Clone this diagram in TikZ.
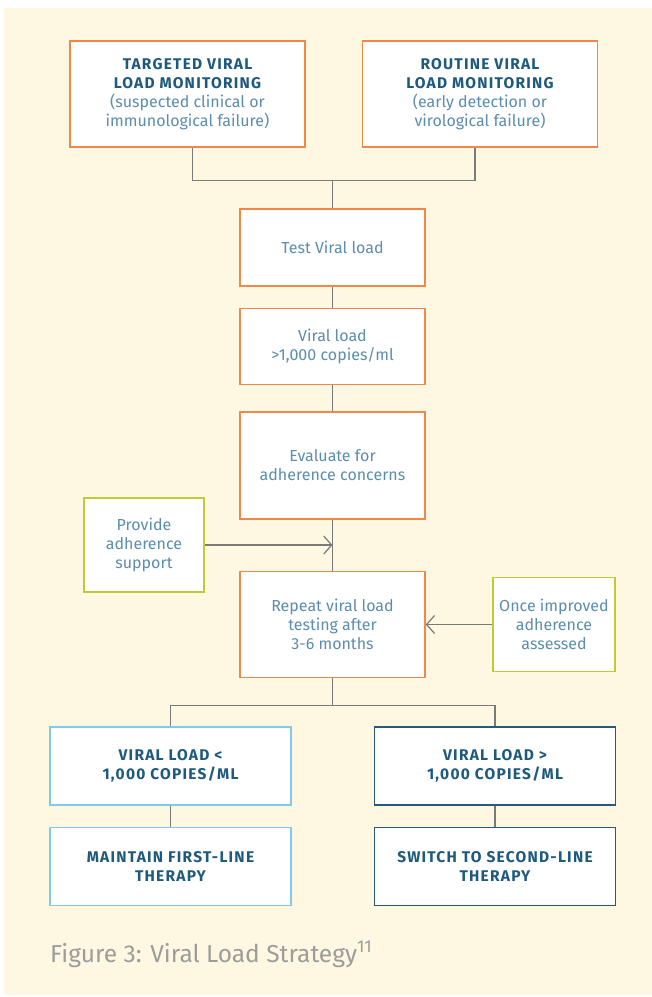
\documentclass[tikz,border=0pt]{standalone}
\usepackage{fontspec}
\setmainfont{Fira Sans}
\newfontfamily\headfont{Fira Sans}[LetterSpace=8]
\usetikzlibrary{arrows.meta,positioning}
\definecolor{cream}{HTML}{FEF8E2}
\definecolor{vlorange}{HTML}{F0884A}
\definecolor{vlgreen}{HTML}{BFCB34}
\definecolor{vllight}{HTML}{7FCBEA}
\definecolor{vldark}{HTML}{27597C}
\definecolor{vltext}{HTML}{5A8EAD}
\definecolor{vlhead}{HTML}{1E5A7E}
\definecolor{vlline}{HTML}{7A7A7A}
\definecolor{vlcap}{HTML}{9C9C9C}
\newcommand{\hd}[1]{{\headfont\bfseries\fontsize{15.5}{19}\selectfont\color{vlhead}#1}}

\begin{document}
\begin{tikzpicture}[x=1pt, y=-1pt,
  box/.style={draw, fill=white, align=center, line width=1.5pt, inner sep=2pt,
    text=vltext, font=\fontsize{16}{19}\selectfont},
  obox/.style={box, draw=vlorange, minimum width=185pt},
  gbox/.style={box, draw=vlgreen, minimum height=94pt},
  link/.style={draw=vlline, line width=1.2pt},
  pointer/.style={link, -{Straight Barb[length=8pt, width=18pt, line width=1.2pt]}}]
  \useasboundingbox (0,0) rectangle (652,997);
  \fill[cream] (4,8) rectangle (652,995);
  % monitoring
  \node[obox, minimum width=235pt, minimum height=106pt] (tgt) at (187.5,94)
    {\hd{TARGETED VIRAL}\\\hd{LOAD MONITORING}\\(suspected clinical or\\immunological failure)};
  \node[obox, minimum width=235pt, minimum height=106pt, right=56pt of tgt] (rtn)
    {\hd{ROUTINE VIRAL}\\\hd{LOAD MONITORING}\\(early detection or\\virological failure)};
  % main column
  \node[obox, minimum height=77pt] (test) at (332.5,247.5) {Test Viral load};
  \node[obox, minimum height=76pt, below=21pt of test] (high) {Viral load\\>1,000 copies/ml};
  \node[obox, minimum height=107pt, below=26pt of high] (eval) {Evaluate for\\adherence concerns};
  \node[obox, minimum height=106pt, below=51pt of eval] (rep) {Repeat viral load\\testing after\\3-6 months};
  % adherence
  \node[gbox, minimum width=120pt] (sup) at (144,545) {Provide\\adherence\\support};
  \node[gbox, minimum width=122pt, right=66.5pt of rep] (once) {Once improved\\adherence\\assessed};
  % outcomes
  \node[box, draw=vllight, minimum width=241pt, minimum height=78pt] (low) at (170.5,766)
    {\hd{VIRAL LOAD <}\\\hd{1,000 COPIES/ML}};
  \node[box, draw=vldark, minimum width=241pt, minimum height=78pt, right=82pt of low] (up)
    {\hd{VIRAL LOAD >}\\\hd{1,000 COPIES/ML}};
  \node[box, draw=vllight, minimum width=241pt, minimum height=78pt, below=21pt of low] (keep)
    {\hd{MAINTAIN FIRST-LINE}\\\hd{THERAPY}};
  \node[box, draw=vldark, minimum width=241pt, minimum height=78pt, below=21pt of up] (swap)
    {\hd{SWITCH TO SECOND-LINE}\\\hd{THERAPY}};
  \node[anchor=base west, inner sep=0pt, text=vlcap, font=\fontsize{24.5}{28}\selectfont]
    (cap) at (50,962) {Figure 3: Viral Load Strategy\textsuperscript{11}};
  % connectors
  \draw[link] ([xshift=5pt]tgt.south) -- ++(0,33) -| (test.north);
  \draw[link] ([xshift=-5pt]rtn.south) -- ++(0,33) -| (test.north);
  \draw[link] (test) -- (high);
  \draw[link] (high) -- (eval);
  \draw[link] (eval) -- (rep);
  \draw[pointer] (sup.east) -- (sup.east -| eval.south);
  \draw[pointer] (once.west) -- (rep.east);
  \draw[link] (rep.south) -- ++(0,27) -| (low.north);
  \draw[link] (rep.south) -- ++(0,27) -| (up.north);
  \draw[link] (low) -- (keep);
  \draw[link] (up) -- (swap);
\end{tikzpicture}
\end{document}
